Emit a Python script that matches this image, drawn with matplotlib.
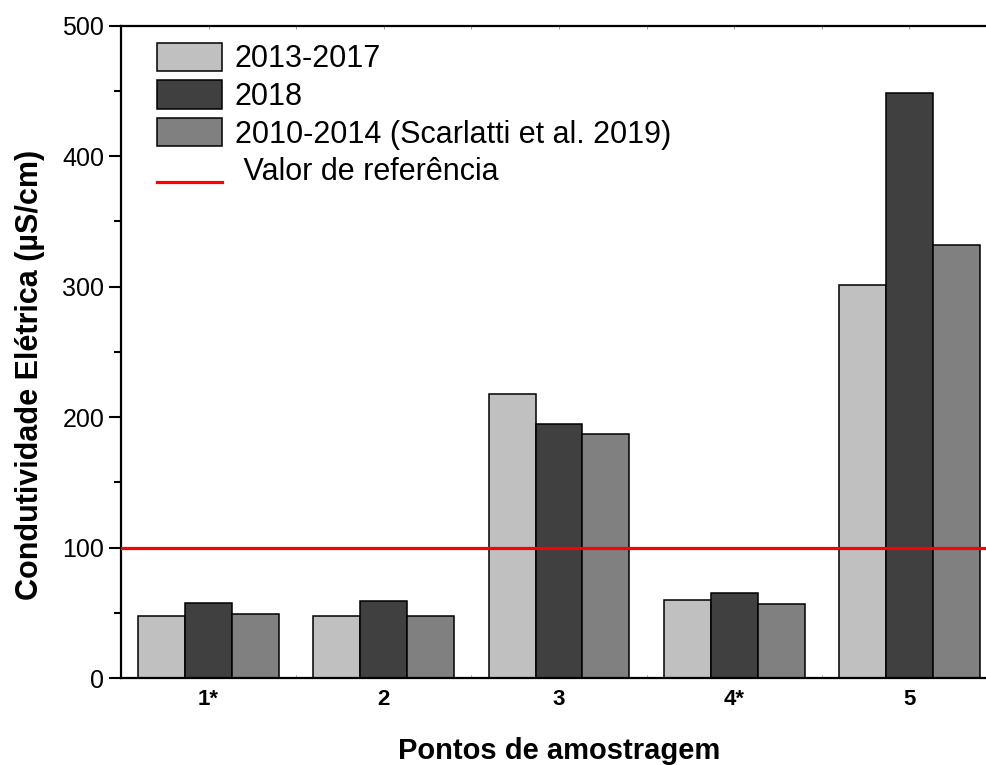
import numpy as np
import matplotlib
matplotlib.use('Agg')
from matplotlib import pyplot as plt
from matplotlib.lines import Line2D
from matplotlib.patches import Patch
from matplotlib.legend_handler import HandlerLine2D
from matplotlib.ticker import MultipleLocator

plt.rcParams['font.family'] = ['Liberation Sans', 'DejaVu Sans']

points = ['1*', '2', '3', '4*', '5']
ce_2013_2017 = [47.5, 47.5, 217.7, 59.8, 301.0]
ce_2018 = [57.7, 58.8, 194.9, 64.9, 448.2]
ce_2010_2014 = [48.8, 47.5, 186.8, 56.7, 331.9]
series_labels = ['2013-2017', '2018', '2010-2014 (Scarlatti et al. 2019)']
ref_value = 100
ref_label = ' Valor de referência'

colors = ['#c0c0c0', '#404040', '#808080']


class LowLine(HandlerLine2D):
    # draw the legend line near the bottom of its row
    def create_artists(self, legend, orig_handle, xdescent, ydescent,
                       width, height, fontsize, trans):
        return super().create_artists(legend, orig_handle, xdescent,
                                      ydescent + height * 1.0, width, height,
                                      fontsize, trans)


fig = plt.figure(figsize=(9.87, 7.65), dpi=100)
ax = fig.add_axes([0.1226, 0.1137, 0.8875, 0.8527])

x = np.arange(1, len(points) + 1)
w = 0.268
for i, vals in enumerate([ce_2013_2017, ce_2018, ce_2010_2014]):
    ax.bar(x + (i - 1) * w, vals, w, color=colors[i], edgecolor='black',
           linewidth=1.1, zorder=2)

ax.axhline(ref_value, color='#ff0000', lw=2.3, zorder=3)

ax.set_xlim(0.5, 5.5)
ax.set_ylim(0, 500)
ax.yaxis.set_major_locator(MultipleLocator(100))
ax.yaxis.set_minor_locator(MultipleLocator(50))
ax.xaxis.set_minor_locator(MultipleLocator(0.5))
ax.set_xticks(x)
ax.set_xticklabels(points, fontweight='bold', fontsize=16)

ax.tick_params(axis='y', which='major', direction='out', length=9, width=1.5,
               labelsize=18, pad=3)
ax.tick_params(axis='y', which='minor', direction='out', length=5, width=1.5)
ax.tick_params(axis='x', which='both', direction='in', length=2, width=0.6,
               color='#888888', top=True, pad=8)

for s in ax.spines.values():
    s.set_linewidth(1.6)

ax.set_xlabel('Pontos de amostragem', fontsize=21, fontweight='bold')
ax.xaxis.set_label_coords(0.5, -0.091)
ax.set_ylabel('Condutividade Elétrica (µS/cm)', fontsize=22, fontweight='bold')
ax.yaxis.set_label_coords(-0.087, 0.465)

handles = [Patch(facecolor=c, edgecolor='black', linewidth=1.1) for c in colors]
handles.append(Line2D([], [], color='#ff0000', lw=2.3))
ax.legend(handles, series_labels + [ref_label], loc='upper left',
          bbox_to_anchor=(0.041, 0.974), frameon=False, fontsize=22,
          handlelength=2.13, handleheight=1.05, handletextpad=0.42,
          labelspacing=0.2, borderaxespad=0, borderpad=0,
          handler_map={Line2D: LowLine()})

fig.savefig('out.png', dpi=100)
